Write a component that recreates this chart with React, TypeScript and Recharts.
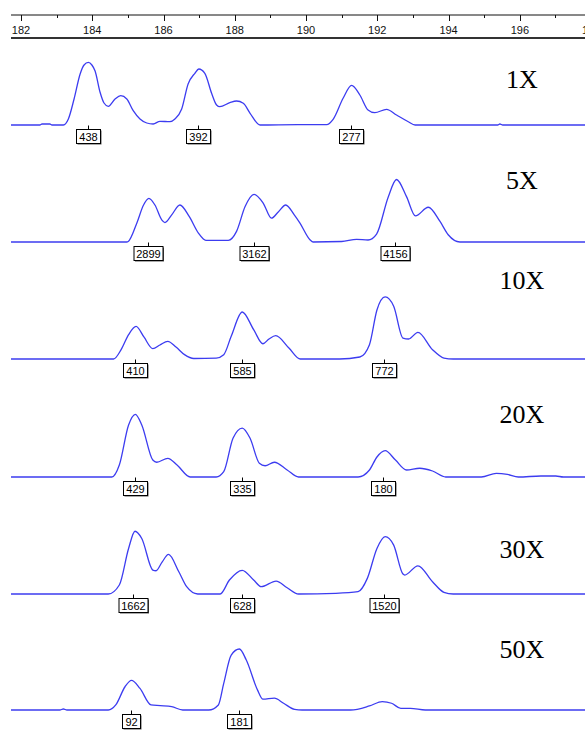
import React from "react";
import { LineChart, Line, XAxis, YAxis, ReferenceDot } from "recharts";

// fragment size (bp) shown on the shared top ruler
const X_MIN = 181.72;
const X_MAX = 198.25;
const AXIS_TICKS = [182, 183, 184, 185, 186, 187, 188, 189, 190, 191, 192, 193, 194, 195, 196, 197, 198];

// traces: [size in bp, signal in RFU]
const TRACE_1X: [number, number][] = [
  [181.72, 0], [182.53, 0], [182.59, 7], [182.81, 7], [182.87, 0], [183.19, 0], [183.33, 42], [183.49, 182],
  [183.66, 357], [183.77, 420], [183.89, 438], [183.99, 420], [184.08, 378], [184.22, 229], [184.33, 154],
  [184.45, 131], [184.64, 182], [184.8, 205], [184.97, 182], [185.15, 100], [185.34, 42], [185.53, 14],
  [185.71, 7], [185.9, 26], [186.18, 23], [186.32, 42], [186.51, 112], [186.69, 287], [186.88, 362],
  [186.99, 392], [187.16, 362], [187.35, 222], [187.49, 140], [187.58, 128], [187.86, 156], [188.05, 168],
  [188.24, 152], [188.43, 82], [188.71, 0], [189.77, 3], [190.58, 3], [190.76, 40], [191.04, 187],
  [191.28, 277], [191.51, 210], [191.74, 105], [191.93, 86], [192.26, 110], [192.54, 70], [192.87, 23],
  [193.06, 0], [195.38, 0], [195.44, 7], [195.52, 0], [198.25, 0],
];
const TRACE_5X: [number, number][] = [
  [181.72, 0], [184.97, 0], [185.01, 33], [185.25, 1254], [185.44, 2460], [185.59, 2899], [185.76, 2460],
  [185.95, 1474], [186.04, 1294], [186.23, 1804], [186.46, 2460], [186.72, 1700], [186.98, 594],
  [187.19, 110], [187.82, 110], [188.05, 706], [188.29, 2356], [188.54, 3162], [188.8, 2574], [189.03, 1584],
  [189.22, 2000], [189.43, 2460], [189.67, 1804], [189.83, 1254], [190.11, 152], [190.2, 0], [191.0, 33],
  [191.42, 178], [191.74, 132], [191.98, 528], [192.31, 3016], [192.54, 4156], [192.82, 3016],
  [193.07, 1736], [193.43, 2310], [193.76, 1366], [193.99, 482], [194.32, 0], [198.25, 0],
];
const TRACE_10X: [number, number][] = [
  [181.72, 0], [184.6, 0], [184.81, 116], [185.02, 303], [185.23, 405], [185.45, 274], [185.7, 128],
  [185.9, 174], [186.12, 220], [186.35, 149], [186.59, 54], [186.85, 6], [187.48, 12], [187.69, 54],
  [187.9, 283], [188.21, 585], [188.53, 365], [188.79, 190], [188.96, 249], [189.15, 290], [189.52, 137],
  [189.84, 0], [190.94, 0], [191.51, 25], [191.78, 178], [191.99, 610], [192.22, 772], [192.46, 656],
  [192.72, 261], [192.88, 249], [193.14, 332], [193.55, 116], [193.87, 12], [194.13, 0], [198.25, 0],
];
const TRACE_20X: [number, number][] = [
  [181.72, 0], [184.55, 0], [184.76, 82], [185.02, 356], [185.21, 429], [185.39, 356], [185.7, 116],
  [185.81, 101], [186.12, 128], [186.38, 82], [186.75, 0], [187.48, 0], [187.69, 36], [187.95, 265],
  [188.21, 335], [188.43, 265], [188.69, 94], [188.85, 77], [189.11, 101], [189.47, 48], [189.79, 0],
  [191.46, 0], [191.78, 48], [191.99, 137], [192.22, 180], [192.51, 116], [192.82, 48], [193.19, 60],
  [193.55, 41], [193.92, 0], [194.92, 0], [195.34, 25], [195.65, 18], [195.96, 0], [196.59, 7],
  [197.01, 7], [197.22, 0], [198.25, 0],
];
const TRACE_30X: [number, number][] = [
  [181.72, 0], [184.45, 0], [184.76, 238], [185.02, 1206], [185.2, 1662], [185.39, 1470], [185.7, 634],
  [185.79, 615], [185.96, 845], [186.14, 1048], [186.43, 589], [186.65, 193], [186.96, 0], [187.59, 0],
  [187.85, 370], [188.21, 628], [188.53, 370], [188.74, 193], [189.16, 343], [189.47, 166], [189.79, 0],
  [190.83, 18], [191.46, 61], [191.72, 414], [191.99, 1206], [192.22, 1520], [192.46, 1294], [192.72, 528],
  [192.77, 502], [193.14, 747], [193.55, 325], [193.87, 45], [194.13, 0], [198.25, 0],
];
const TRACE_50X: [number, number][] = [
  [181.72, 0], [183.09, 0], [183.19, 3], [183.29, 0], [184.45, 0], [184.66, 15], [184.92, 69], [185.1, 88],
  [185.34, 64], [185.65, 15], [185.91, 13], [186.23, 10], [186.54, 0], [187.27, 0], [187.54, 15],
  [187.69, 79], [187.9, 163], [188.13, 181], [188.32, 149], [188.64, 59], [188.79, 32], [189.11, 35],
  [189.37, 20], [189.68, 2], [189.89, 0], [191.25, 0], [191.78, 12], [192.14, 25], [192.4, 20],
  [192.66, 5], [192.93, 5], [193.35, 0], [198.25, 0],
];

// called peaks: [size in bp, peak label]
const PEAKS_1X: [number, number][] = [[183.88, 438], [186.96, 392], [191.25, 277]];
const PEAKS_5X: [number, number][] = [[185.57, 2899], [188.55, 3162], [192.51, 4156]];
const PEAKS_10X: [number, number][] = [[185.21, 410], [188.2, 585], [192.19, 772]];
const PEAKS_20X: [number, number][] = [[185.21, 429], [188.21, 335], [192.15, 180]];
const PEAKS_30X: [number, number][] = [[185.14, 1662], [188.2, 628], [192.19, 1520]];
const PEAKS_50X: [number, number][] = [[185.09, 92], [188.11, 181]];

const PANEL_NAMES = ["1X", "5X", "10X", "20X", "30X", "50X"];
const PANEL_TRACES = [TRACE_1X, TRACE_5X, TRACE_10X, TRACE_20X, TRACE_30X, TRACE_50X];
const PANEL_PEAKS = [PEAKS_1X, PEAKS_5X, PEAKS_10X, PEAKS_20X, PEAKS_30X, PEAKS_50X];
const PANEL_YMAX = [441, 4190, 784, 431, 1668, 187];

// layout (px)
const PANEL_BASELINE = [125, 242, 359, 477, 594, 710];
const NAME_OFFSET = [-37, -53, -70, -54, -36, -52];
const BLUE = "#3c3cf0";
const SMALL_FONT = "'Liberation Sans Narrow', 'Liberation Sans', Arial, sans-serif";

function AxisTick(props: any) {
  const { x, y, payload } = props;
  const major = payload.value % 2 === 0;
  const px = Math.round(x) + 0.5;
  return (
    <g>
      <line x1={px} y1={y} x2={px} y2={y + (major ? 6 : 3)} stroke="#111" />
      {major && (
        <text x={x} y={y + 19} textAnchor="middle" fontSize={11} fontFamily={SMALL_FONT} fill="#111">
          {payload.value}
        </text>
      )}
    </g>
  );
}

function PeakBox(props: any) {
  const { cx, cy, text } = props;
  const x = Math.round(cx) + 0.5;
  const y = Math.round(cy) + 0.5;
  const w = Math.round(7 + 5.5 * text.length);
  const top = y + 4;
  return (
    <g>
      <line x1={x} y1={y} x2={x} y2={top} stroke="#000" />
      <rect x={x - w / 2 + 1} y={top + 1} width={w} height={14} fill="#555" />
      <rect x={x - w / 2} y={top} width={w} height={14} fill="#fff" stroke="#000" />
      <text x={x} y={top + 11} textAnchor="middle" fontSize={11} fontFamily={SMALL_FONT} fill="#000">
        {text}
      </text>
    </g>
  );
}

export default function App() {
  const axisData = AXIS_TICKS.map((t) => ({ bp: t, v: 0 }));
  return (
    <div style={{ position: "absolute", left: 0, top: 0, width: 585, height: 732, overflow: "hidden", background: "#fff" }}>
      <div style={{ position: "absolute", left: 0, top: 0 }}>
        <LineChart width={600} height={40} data={axisData} margin={{ top: 0, right: 0, bottom: 0, left: 11 }}>
          <XAxis
            type="number"
            dataKey="bp"
            domain={[X_MIN, X_MAX]}
            ticks={AXIS_TICKS}
            interval={0}
            height={25}
            tickSize={0}
            tickMargin={0}
            tickLine={false}
            axisLine={{ stroke: "#111" }}
            tick={<AxisTick />}
          />
          <YAxis hide domain={[0, 1]} />
        </LineChart>
      </div>
      <div style={{ position: "absolute", left: 11, top: 37, width: 574, height: 2, background: "#333" }} />
      {PANEL_NAMES.map((name, i) => {
        const data = PANEL_TRACES[i].map(([bp, rfu]) => ({ bp, rfu }));
        return (
          <div key={name} style={{ position: "absolute", left: 0, top: PANEL_BASELINE[i] - 100 }}>
            <LineChart width={600} height={130} data={data} margin={{ top: 37, right: 0, bottom: 30, left: 11 }}>
              <XAxis type="number" dataKey="bp" domain={[X_MIN, X_MAX]} hide />
              <YAxis type="number" domain={[0, PANEL_YMAX[i]]} hide />
              <Line
                type="monotone"
                dataKey="rfu"
                stroke={BLUE}
                strokeWidth={1.3}
                dot={false}
                isAnimationActive={false}
              />
              {PANEL_PEAKS[i].map(([bp, label]) => (
                <ReferenceDot
                  key={bp}
                  x={bp}
                  y={0}
                  r={0}
                  ifOverflow="visible"
                  shape={(p: any) => <PeakBox {...p} text={String(label)} />}
                />
              ))}
              <text
                x={522}
                y={100 + NAME_OFFSET[i]}
                textAnchor="middle"
                fontSize={26}
                fontFamily="'Liberation Serif', 'Times New Roman', serif"
                fill="#000"
              >
                {name}
              </text>
            </LineChart>
          </div>
        );
      })}
    </div>
  );
}
